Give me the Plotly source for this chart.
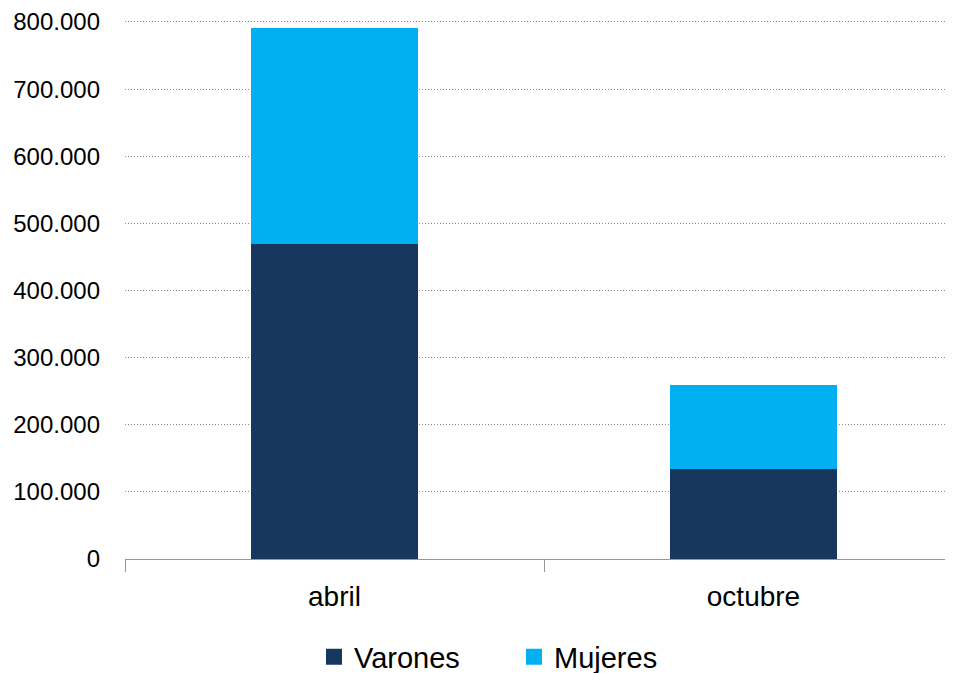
import plotly.graph_objects as go

categorias = ["abril", "octubre"]
varones = [470000, 133600]
mujeres = [321000, 126200]

color_varones = "#17375E"
color_mujeres = "#00B0F0"
FONT = "Liberation Sans"

fig = go.Figure()
fig.add_trace(go.Bar(x=categorias, y=varones, name="Varones", marker_color=color_varones,
                     marker_line_width=0, showlegend=False))
fig.add_trace(go.Bar(x=categorias, y=mujeres, name="Mujeres", marker_color=color_mujeres,
                     marker_line_width=0, showlegend=False))
# legend entries with larger square symbols
fig.add_trace(go.Scatter(x=[None], y=[None], mode="markers", name="Varones",
                         marker=dict(symbol="square", size=18, color=color_varones)))
fig.add_trace(go.Scatter(x=[None], y=[None], mode="markers", name="Mujeres",
                         marker=dict(symbol="square", size=18, color=color_mujeres)))

# page body adds an 8px offset; compensate
OFF = 8
W, H = 953 - OFF, 673 - OFF
left, right_full = 125 - OFF, 963 - OFF
top, bottom = 4, 114
plot_h = H - top - bottom
y_top = 800000 * plot_h / (559 - 20)

fig.update_layout(
    width=W, height=H,
    barmode="stack", bargap=0.6,
    separators=",.",
    plot_bgcolor="white", paper_bgcolor="white",
    margin=dict(l=left, r=0, t=top, b=bottom),
    font=dict(family=FONT, color="#000000", size=24),
    legend=dict(orientation="h", xref="container", yref="container", traceorder="normal",
                x=(314 - OFF) / W, xanchor="left", y=1 - (657 - OFF) / H, yanchor="middle",
                font=dict(size=29), entrywidth=155, itemwidth=30),
)
plot_w = W - left
fig.update_xaxes(
    type="category",
    range=[-0.5, -0.5 + 2 * plot_w / (right_full - left)],
    showline=True, linecolor="#999999", linewidth=1,
    ticks="outside", tickson="boundaries", ticklen=12, tickcolor="#999999",
    tickfont=dict(size=28), showgrid=False, ticklabelstandoff=12,
)
fig.update_yaxes(
    range=[0, y_top], dtick=100000, tickformat=",d",
    showgrid=True, gridcolor="#8c8c8c", griddash="1px,2px", gridwidth=1,
    zeroline=False, showline=False, ticks="", ticklabelstandoff=24,
    tickfont=dict(size=24), ticklabeloverflow="allow",
)

fig.write_html("out.html")
